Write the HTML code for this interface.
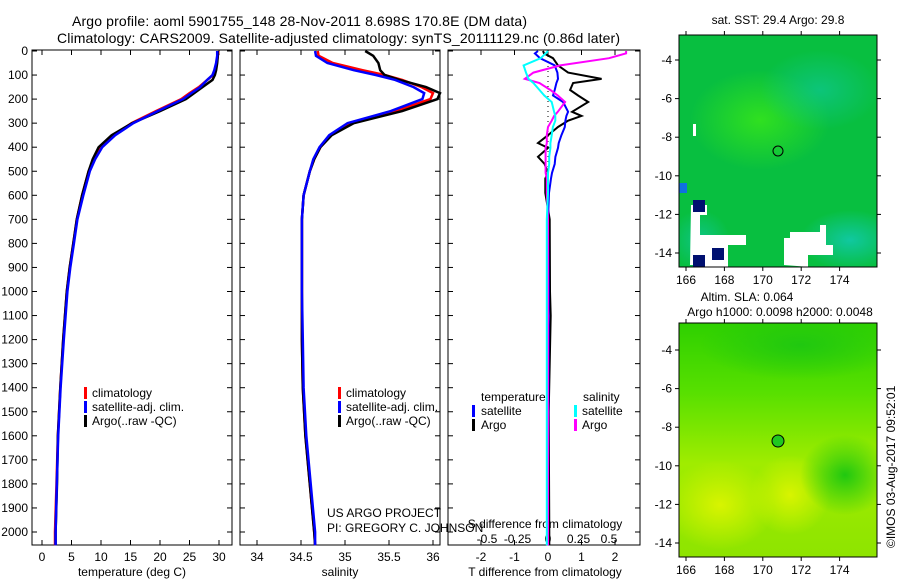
<!DOCTYPE html>
<html><head><meta charset="utf-8"><style>
body{margin:0;background:#fff}
svg text{font-family:"Liberation Sans",sans-serif;font-size:12px;fill:#000}
</style></head><body>
<svg id="c" width="900" height="580" xmlns="http://www.w3.org/2000/svg">
<defs>
<linearGradient id="g2" x1="0" y1="0" x2="0" y2="1">
<stop offset="0" stop-color="#2ed000"/><stop offset="0.3" stop-color="#58e000"/><stop offset="0.6" stop-color="#a0ec00"/><stop offset="1" stop-color="#8ee400"/>
</linearGradient>
<radialGradient id="y1" cx="0.5" cy="0.5" r="0.5"><stop offset="0" stop-color="#d8f400"/><stop offset="1" stop-color="#d8f400" stop-opacity="0"/></radialGradient>
<radialGradient id="t1" cx="0.5" cy="0.5" r="0.5"><stop offset="0" stop-color="#10c8a0"/><stop offset="1" stop-color="#10c8a0" stop-opacity="0"/></radialGradient>
<radialGradient id="l1" cx="0.5" cy="0.5" r="0.5"><stop offset="0" stop-color="#30e020"/><stop offset="1" stop-color="#30e020" stop-opacity="0"/></radialGradient>
<radialGradient id="d1" cx="0.5" cy="0.5" r="0.5"><stop offset="0" stop-color="#20c810"/><stop offset="1" stop-color="#20c810" stop-opacity="0"/></radialGradient>
<clipPath id="cm1"><rect x="679" y="35" width="198" height="232"/></clipPath>
<clipPath id="cm2"><rect x="679" y="323" width="198" height="234"/></clipPath>
</defs>
<text x="72" y="26" textLength="455" style="font-size:14px">Argo profile: aoml 5901755_148 28-Nov-2011 8.698S 170.8E (DM data)</text>
<text x="57" y="43" textLength="563" style="font-size:14px">Climatology: CARS2009. Satellite-adjusted climatology: synTS_20111129.nc (0.86d later)</text>
<g id="p1"></g>
<g id="p2"></g>
<g id="p3"></g>
<g id="maps">
 <g clip-path="url(#cm1)">
  <rect x="679" y="35" width="198" height="232" fill="#08bf40"/>
  <ellipse cx="760" cy="120" rx="70" ry="50" fill="url(#l1)"/>
  <ellipse cx="820" cy="90" rx="60" ry="40" fill="url(#t1)" opacity="0.6"/>
  <ellipse cx="850" cy="240" rx="50" ry="30" fill="url(#t1)"/>
  <ellipse cx="700" cy="240" rx="30" ry="30" fill="url(#t1)" opacity="0.7"/>
  <rect x="693" y="124" width="3" height="12" fill="#fff"/>
  <path d="M691 205 L707 205 L707 215 L700 215 L700 235 L746 235 L746 245 L728 245 L728 267 L695 267 L695 265 L690 265 Z" fill="#fff"/>
  <path d="M784 265 L784 238 L790 238 L790 232 L820 232 L820 225 L826 225 L826 245 L833 245 L833 255 L808 255 L808 267 L810 267 Z" fill="#fff"/>
  <rect x="693" y="200" width="12" height="12" fill="#001070"/>
  <rect x="712" y="248" width="12" height="12" fill="#001070"/>
  <rect x="693" y="255" width="12" height="12" fill="#001070"/>
  <rect x="679" y="183" width="8" height="10" fill="#1070e0"/>
  <circle cx="778" cy="151" r="5" fill="none" stroke="#000"/>
 </g>
 <rect x="679" y="35" width="198" height="232" fill="none" stroke="#000"/>
 <g clip-path="url(#cm2)">
  <rect x="679" y="323" width="198" height="234" fill="url(#g2)"/>
  <ellipse cx="720" cy="505" rx="55" ry="45" fill="url(#y1)"/>
  <ellipse cx="790" cy="495" rx="40" ry="40" fill="url(#y1)"/>
  <ellipse cx="845" cy="475" rx="45" ry="40" fill="url(#d1)"/>
  <ellipse cx="800" cy="345" rx="100" ry="35" fill="url(#d1)"/>
  <circle cx="778" cy="441" r="6" fill="#20c820" stroke="#000"/>
 </g>
 <rect x="679" y="323" width="198" height="234" fill="none" stroke="#000"/>
 <text x="778" y="24" text-anchor="middle">sat. SST: 29.4  Argo: 29.8</text>
 <text x="747" y="301" text-anchor="middle">Altim. SLA: 0.064</text>
 <text x="780" y="316" text-anchor="middle">Argo h1000: 0.0098 h2000: 0.0048</text>
 <text transform="translate(895,548) rotate(-90)">©IMOS 03-Aug-2017 09:52:01</text>
</g>
<text x="327" y="517">US ARGO PROJECT</text>
<text x="327" y="532">PI: GREGORY C. JOHNSON</text>
</svg>
<script>
const depths=[0,20,50,80,100,120,150,175,200,250,300,350,400,450,500,600,700,800,900,1000,1200,1400,1600,1800,2000,2055];
const tempClim=[29.9,29.8,29.6,29.3,29.0,28.0,26.6,25.0,23.6,19.3,15.2,12.2,10.0,8.8,7.9,6.8,5.9,5.3,4.7,4.2,3.6,3.1,2.7,2.45,2.2,2.2];
const tempSat=[29.7,29.7,29.5,29.2,28.9,28.0,26.8,25.3,23.9,19.6,15.5,12.4,10.2,9.0,8.1,7.0,6.0,5.4,4.8,4.3,3.7,3.15,2.75,2.5,2.3,2.3];
const tempArgo=[29.8,29.8,29.7,29.5,29.3,28.9,27.2,25.8,24.4,20.0,15.3,11.8,9.6,8.6,7.9,6.8,5.9,5.3,4.7,4.2,3.6,3.1,2.7,2.55,2.3,2.3];
const salClim=[34.69,34.70,34.86,35.20,35.45,35.65,35.87,36.00,35.97,35.58,35.06,34.84,34.72,34.65,34.60,34.53,34.51,34.51,34.51,34.51,34.51,34.52,34.55,34.60,34.65,34.66];
const salSat=[34.66,34.67,34.80,35.10,35.35,35.57,35.78,35.90,35.88,35.52,35.03,34.82,34.71,34.64,34.60,34.53,34.51,34.51,34.51,34.51,34.52,34.53,34.56,34.61,34.66,34.66];
const salArgo=[35.23,35.32,35.38,35.40,35.45,35.62,35.92,36.08,36.05,35.65,35.10,34.85,34.72,34.65,34.60,34.53,34.51,34.51,34.51,34.51,34.51,34.52,34.55,34.60,34.65,34.66];
const diffDepths=[0,10,30,60,90,116,133,162,185,212,253,270,290,316,350,383,403,440,470,507,530,590,700,1000,1100,1500,2000,2055];
const dTsat=[-0.3,-0.39,-0.24,0.2,0.28,0.3,0.25,0.2,0.15,0.45,0.6,0.55,0.52,0.5,0.4,0.32,0.3,0.22,0.2,0.12,0.09,0.03,0.0,0.02,0.02,0.01,0.0,0.0];
const dTargo=[-0.15,-0.12,0.15,0.3,0.6,1.6,0.75,0.66,0.9,1.2,0.72,1.0,0.6,0.3,0.0,-0.3,0.0,-0.3,-0.1,0.0,-0.08,-0.08,0.05,0.06,0.08,0.02,0.04,0.04];
const dSsat=[0.0,-0.02,-0.06,-0.2,-0.18,-0.16,-0.12,-0.07,-0.03,0.03,0.05,0.06,0.06,0.04,0.03,0.02,0.02,0.01,0.01,0.0,0.0,0.0,-0.01,-0.01,-0.01,-0.01,-0.01,-0.01];
const dSargo=[0.64,0.64,0.5,0.1,-0.12,-0.19,-0.07,0.02,0.08,0.14,0.08,0.05,0.03,0.0,-0.01,-0.01,-0.02,-0.02,-0.02,-0.02,-0.01,-0.01,0.0,0.0,0.0,0.0,0.0,0.0];
const depthTicks=[0,100,200,300,400,500,600,700,800,900,1000,1100,1200,1300,1400,1500,1600,1700,1800,1900,2000];
const tempTicks=[0,5,10,15,20,25,30];
const salTicks=[34,34.5,35,35.5,36];
const dTTicks=[-2,-1,0,1,2];
const dSTicks=[-0.5,-0.25,0,0.25,0.5];
const NS='http://www.w3.org/2000/svg';
const yD=d=>51+d*0.2405;
const xT=t=>42+t*5.9;
const xS=s=>257+(s-34)*88;
const xDT=v=>548+v*33.5;
const xDS=v=>548+v*122;
function el(tag,attrs,parent){const e=document.createElementNS(NS,tag);for(const k in attrs)e.setAttribute(k,attrs[k]);parent.appendChild(e);return e;}
function frame(g,x0,x1){
  const r=el('rect',{x:x0,y:50,width:x1-x0,height:495,fill:'none',stroke:'#000'},g);
  
  
  depthTicks.forEach(d=>{el('line',{x1:x0,x2:x0+5,y1:yD(d),y2:yD(d),stroke:'#000'},g);el('line',{x1:x1-5,x2:x1,y1:yD(d),y2:yD(d),stroke:'#000'},g);});
}
function line(g,xs,ds,fx,color,name,w){
  const p=xs.map((v,i)=>fx(v).toFixed(1)+','+yD(ds[i]).toFixed(1)).join(' ');
  const e=el('polyline',{points:p,fill:'none',stroke:color,'stroke-width':w||2.5},g);
  
  
}
function txt(g,x,y,s,anchor){const t=el('text',{x:x,y:y,'text-anchor':anchor||'start'},g);t.textContent=s;return t;}
function xticks(g,ticks,fx,y,lblY){ticks.forEach(v=>{el('line',{x1:fx(v),x2:fx(v),y1:545,y2:540,stroke:'#000'},g);el('line',{x1:fx(v),x2:fx(v),y1:50,y2:55,stroke:'#000'},g);const t=txt(g,fx(v),lblY,String(v),'middle');});}
function legend(g,x,items){items.forEach((it,i)=>{const y=397+i*14;el('rect',{x:x,y:y-10,width:3,height:12,fill:it[1]},g);const t=txt(g,x+8,y,it[0]);});}
const p1=document.getElementById('p1');
frame(p1,32,232);
depthTicks.forEach(d=>{const t=txt(p1,28,yD(d)+4,String(d),'end');});
xticks(p1,tempTicks,xT,545,561);
const a1=txt(p1,132,576,'temperature (deg C)','middle');
line(p1,tempClim,depths,xT,'#f00','temp-climatology');
line(p1,tempArgo,depths,xT,'#000','temp-argo');
line(p1,tempSat,depths,xT,'#00f','temp-satellite');
legend(p1,84,[['climatology','#f00'],['satellite-adj. clim.','#00f'],['Argo(..raw -QC)','#000']]);
const p2=document.getElementById('p2');
frame(p2,240,440);
xticks(p2,salTicks,xS,545,561);
const a2=txt(p2,340,576,'salinity','middle');
line(p2,salClim,depths,xS,'#f00','sal-climatology');
line(p2,salArgo,depths,xS,'#000','sal-argo');
line(p2,salSat,depths,xS,'#00f','sal-satellite');
legend(p2,338,[['climatology','#f00'],['satellite-adj. clim.','#00f'],['Argo(..raw -QC)','#000']]);
const p3=document.getElementById('p3');
frame(p3,448,640);
dTTicks.forEach(v=>{el('line',{x1:xDT(v),x2:xDT(v),y1:545,y2:540,stroke:'#000'},p3);el('line',{x1:xDT(v),x2:xDT(v),y1:50,y2:55,stroke:'#000'},p3);const t=txt(p3,xDT(v),561,String(v),'middle');});
dSTicks.forEach(v=>{const t=txt(p3,xDS(v),543,String(v),'middle');});
const a3=txt(p3,545,576,'T difference from climatology','middle');
const a4=txt(p3,545,528,'S difference from climatology','middle');
el('line',{x1:548,x2:548,y1:51,y2:545,stroke:'#000','stroke-dasharray':'1,4'},p3);
line(p3,dTargo,diffDepths,xDT,'#000','tdiff-argo',2);
line(p3,dTsat,diffDepths,xDT,'#00f','tdiff-satellite',2);
line(p3,dSargo,diffDepths,xDS,'#f0f','sdiff-argo',2);
line(p3,dSsat,diffDepths,xDS,'#0ff','sdiff-satellite',2);
[['temperature',null],['satellite','#00f'],['Argo','#000']].forEach((it,i)=>{const y=401+i*14;if(it[1])el('rect',{x:472,y:y-10,width:3,height:12,fill:it[1]},p3);const t=txt(p3,481,y,it[0]);});
[['salinity',null],['satellite','#0ff'],['Argo','#f0f']].forEach((it,i)=>{const y=401+i*14;if(it[1])el('rect',{x:574,y:y-10,width:3,height:12,fill:it[1]},p3);const t=txt(p3,it[1]?582:583,y,it[0]);});
const maps=document.getElementById('maps');
const lons=[166,168,170,172,174],lats=[-4,-6,-8,-10,-12,-14];
[[267,60],[557,350]].forEach(([yb,y4])=>{
  const top=yb===267?35:323;
  lons.forEach(l=>{const x=686+(l-166)*19.2;el('line',{x1:x,x2:x,y1:top,y2:top-4,stroke:'#000'},maps);el('line',{x1:x,x2:x,y1:yb,y2:yb+4,stroke:'#000'},maps);const t=txt(maps,x,yb+17,String(l),'middle');});
  lats.forEach(l=>{const y=y4+(-4-l)*19.3;el('line',{x1:675,x2:679,y1:y,y2:y,stroke:'#000'},maps);el('line',{x1:877,x2:881,y1:y,y2:y,stroke:'#000'},maps);const t=txt(maps,672,y+4,String(l),'end');});
});
</script>
</body></html>
